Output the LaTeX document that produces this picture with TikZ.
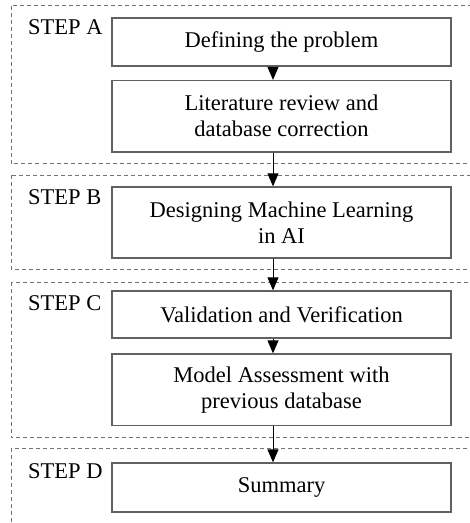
\documentclass[tikz,border=0pt]{standalone}
\usepackage{fontspec}
\setmainfont{Liberation Serif}
\usetikzlibrary{arrows.meta}

\tikzset{
  stepbox/.style={draw=black!62, line width=1.3pt, minimum width=339pt,
    inner sep=0pt, align=center, font=\fontsize{22.5}{26}\selectfont},
  stage/.style={draw=black!55, line width=0.9pt, dash pattern=on 4pt off 3pt},
  steplabel/.style={anchor=base west, inner sep=0pt, font=\fontsize{22.5}{26}\selectfont},
  flow/.style={draw=black, line width=1pt, -{Triangle[width=11pt,length=13pt]}}
}

\begin{document}
\begin{tikzpicture}[x=1pt,y=-1pt]
  \useasboundingbox (0,0) rectangle (470,523);
  \clip (0,0) rectangle (470,523);

  % dashed stage frames (open to the right / bottom)
  \draw[stage] (11,5.5) rectangle (490,163);
  \draw[stage] (11,175) rectangle (490,269);
  \draw[stage] (11,282) rectangle (490,437.5);
  \draw[stage] (11,448) rectangle (490,540);

  % stage labels
  \node[steplabel] (la) at (28,34.5) {STEP A};
  \node[steplabel] (lb) at (28,204) {STEP B};
  \node[steplabel] (lc) at (28,310) {STEP C};
  \node[steplabel] (ld) at (28,478) {STEP D};

  % process boxes
  \node[stepbox, minimum height=48pt]   (b1) at (281.5,42)     {Defining the problem};
  \node[stepbox, minimum height=71.5pt] (b2) at (281.5,116.25) {Literature review and\\database correction};
  \node[stepbox, minimum height=71pt]   (b3) at (281.5,222.5)  {Designing Machine Learning\\in AI};
  \node[stepbox, minimum height=47pt]   (b4) at (281.5,314.5)  {Validation and Verification};
  \node[stepbox, minimum height=71.5pt] (b5) at (281.5,389.75) {Model Assessment with\\previous database};
  \node[stepbox, minimum height=49pt]   (b6) at (281.5,487.5)  {Summary};

  % connectors run on a common vertical line
  \coordinate (ax) at (273,0);
  \draw[flow] (b1.south -| ax) -- (b2.north -| ax);
  \draw[flow] (b2.south -| ax) -- (b3.north -| ax);
  \draw[flow] (b3.south -| ax) -- (b4.north -| ax);
  \draw[flow] (b4.south -| ax) -- (b5.north -| ax);
  \draw[flow] (b5.south -| ax) -- (b6.north -| ax);
\end{tikzpicture}
\end{document}
